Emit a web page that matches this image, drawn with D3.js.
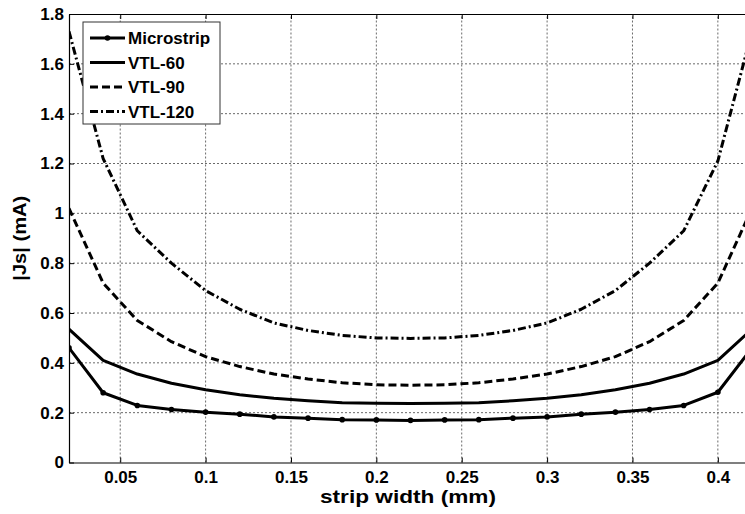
<!DOCTYPE html>
<head>
    <meta charset="utf-8">
    <title>Surface current vs strip width</title>
    <style>
        body { margin: 0; background: #fff; }
        text { font-family: "Liberation Sans", Arial, sans-serif; font-weight: bold; fill: #000; }
        .grid line { stroke: #6a6a6a; stroke-width: 1; stroke-dasharray: 2,2; }
        .curve { fill: none; stroke: #000; stroke-width: 3; stroke-linejoin: round; }
    </style>
</head>

<body>
    <svg width="745" height="514"></svg>

    <script src="https://d3js.org/d3.v7.min.js"></script>

    <script>

        // strip width (mm), sampled every 0.02
        var widths = [0.02, 0.04, 0.06, 0.08, 0.10, 0.12, 0.14, 0.16, 0.18, 0.20, 0.22,
                      0.24, 0.26, 0.28, 0.30, 0.32, 0.34, 0.36, 0.38, 0.40, 0.42];

        var microstrip = [0.46, 0.28, 0.229, 0.213, 0.202, 0.194, 0.183, 0.178, 0.172, 0.171, 0.169,
                          0.171, 0.172, 0.178, 0.183, 0.194, 0.202, 0.213, 0.229, 0.282, 0.46];
        var vtl60 = [0.535, 0.41, 0.355, 0.318, 0.292, 0.272, 0.258, 0.248, 0.240, 0.238, 0.237,
                     0.238, 0.240, 0.248, 0.258, 0.272, 0.292, 0.318, 0.355, 0.41, 0.535];
        var vtl90 = [1.02, 0.72, 0.57, 0.485, 0.425, 0.385, 0.355, 0.335, 0.32, 0.312, 0.31,
                     0.312, 0.32, 0.335, 0.355, 0.385, 0.425, 0.485, 0.57, 0.72, 1.02];
        var vtl120 = [1.73, 1.22, 0.93, 0.80, 0.69, 0.615, 0.56, 0.53, 0.51, 0.50, 0.498,
                      0.50, 0.51, 0.53, 0.56, 0.615, 0.69, 0.80, 0.93, 1.21, 1.73];

        var seriesNames = ["Microstrip", "VTL-60", "VTL-90", "VTL-120"];
        var xTicks = [0.05, 0.1, 0.15, 0.2, 0.25, 0.3, 0.35, 0.4];
        var yTicks = [0, 0.2, 0.4, 0.6, 0.8, 1, 1.2, 1.4, 1.6, 1.8];

        var series = [
            { name: seriesNames[0], values: microstrip, dash: null, markers: true },
            { name: seriesNames[1], values: vtl60, dash: null, markers: false },
            { name: seriesNames[2], values: vtl90, dash: "8,4", markers: false },
            { name: seriesNames[3], values: vtl120, dash: "8,3,2,3", markers: false }
        ];

        var svg = d3.select("svg"),
            margin = { left: 69, top: 14 },
            plotW = 683, // right edge runs past the window, as in the source image
            plotH = 448.5;

        var x = d3.scaleLinear().domain([0.02, 0.42]).range([margin.left, margin.left + plotW]);
        var y = d3.scaleLinear().domain([0, 1.8]).range([margin.top + plotH, margin.top]);

        svg.append("clipPath").attr("id", "plotclip")
            .append("rect")
            .attr("x", x(0.02)).attr("y", y(1.8))
            .attr("width", plotW).attr("height", plotH);

        // grid
        var grid = svg.append("g").attr("class", "grid");
        grid.selectAll(".vg").data(xTicks).enter().append("line")
            .attr("x1", d => x(d)).attr("x2", d => x(d))
            .attr("y1", y(0)).attr("y2", y(1.8));
        grid.selectAll(".hg").data(yTicks.slice(1, -1)).enter().append("line")
            .attr("x1", x(0.02)).attr("x2", x(0.42))
            .attr("y1", d => y(d)).attr("y2", d => y(d));

        // axes (ticks pointing inward, MATLAB style)
        var fmt = d => String(+d.toFixed(2));

        var xAxis = svg.append("g")
            .attr("transform", "translate(0," + y(0) + ")")
            .call(d3.axisBottom(x).tickValues(xTicks).tickFormat(fmt).tickSizeInner(-5).tickSizeOuter(0).tickPadding(8));
        var xTop = svg.append("g")
            .attr("transform", "translate(0," + y(1.8) + ")")
            .call(d3.axisTop(x).tickValues(xTicks).tickFormat("").tickSizeInner(-5).tickSizeOuter(0));
        var yAxis = svg.append("g")
            .attr("transform", "translate(" + x(0.02) + ",0)")
            .call(d3.axisLeft(y).tickValues(yTicks).tickFormat(fmt).tickSizeInner(-5).tickSizeOuter(0).tickPadding(5));

        [xAxis, xTop, yAxis].forEach(function (a) {
            a.selectAll("path.domain").attr("stroke", "#000").attr("stroke-width", 1.2);
            a.selectAll(".tick line").attr("stroke", "#000");
            a.selectAll("text").style("font-size", "17px").attr("fill", "#000");
        });

        // curves
        var line = d3.line()
            .x(function (d, i) { return x(widths[i]); })
            .y(function (d) { return y(d); });

        var curves = svg.append("g").attr("clip-path", "url(#plotclip)");

        series.forEach(function (s) {
            curves.append("path")
                .attr("class", "curve")
                .attr("stroke-dasharray", s.dash)
                .attr("d", line(s.values));
            if (s.markers) {
                curves.selectAll(".dot").data(s.values).enter().append("circle")
                    .attr("cx", (d, i) => x(widths[i]))
                    .attr("cy", d => y(d))
                    .attr("r", 2.8)
                    .attr("fill", "#000");
            }
        });

        // axis labels
        svg.append("text")
            .attr("x", 408).attr("y", 503)
            .attr("text-anchor", "middle")
            .attr("textLength", 176)
            .attr("lengthAdjust", "spacingAndGlyphs")
            .style("font-size", "18px")
            .text("strip width (mm)");

        svg.append("text")
            .attr("transform", "translate(26," + (margin.top + plotH / 2) + ") rotate(-90)")
            .attr("text-anchor", "middle")
            .attr("textLength", 85)
            .attr("lengthAdjust", "spacingAndGlyphs")
            .style("font-size", "18px")
            .text("|Js| (mA)");

        // legend
        var legend = svg.append("g").attr("transform", "translate(83,22)");
        legend.append("rect")
            .attr("width", 137).attr("height", 102)
            .attr("fill", "#fff").attr("stroke", "#333").attr("stroke-width", 1);

        var item = legend.selectAll(".item").data(series).enter().append("g")
            .attr("transform", (d, i) => "translate(0," + (16 + i * 24.5) + ")");
        item.append("line")
            .attr("class", "curve")
            .attr("x1", 7).attr("x2", 42)
            .attr("stroke-dasharray", d => d.dash);
        item.filter(d => d.markers).append("circle")
            .attr("cx", 24.5).attr("r", 2.8).attr("fill", "#000");
        item.append("text")
            .attr("x", 45).attr("dy", "0.36em")
            .style("font-size", "17px")
            .text(d => d.name);

    </script>
</body>
